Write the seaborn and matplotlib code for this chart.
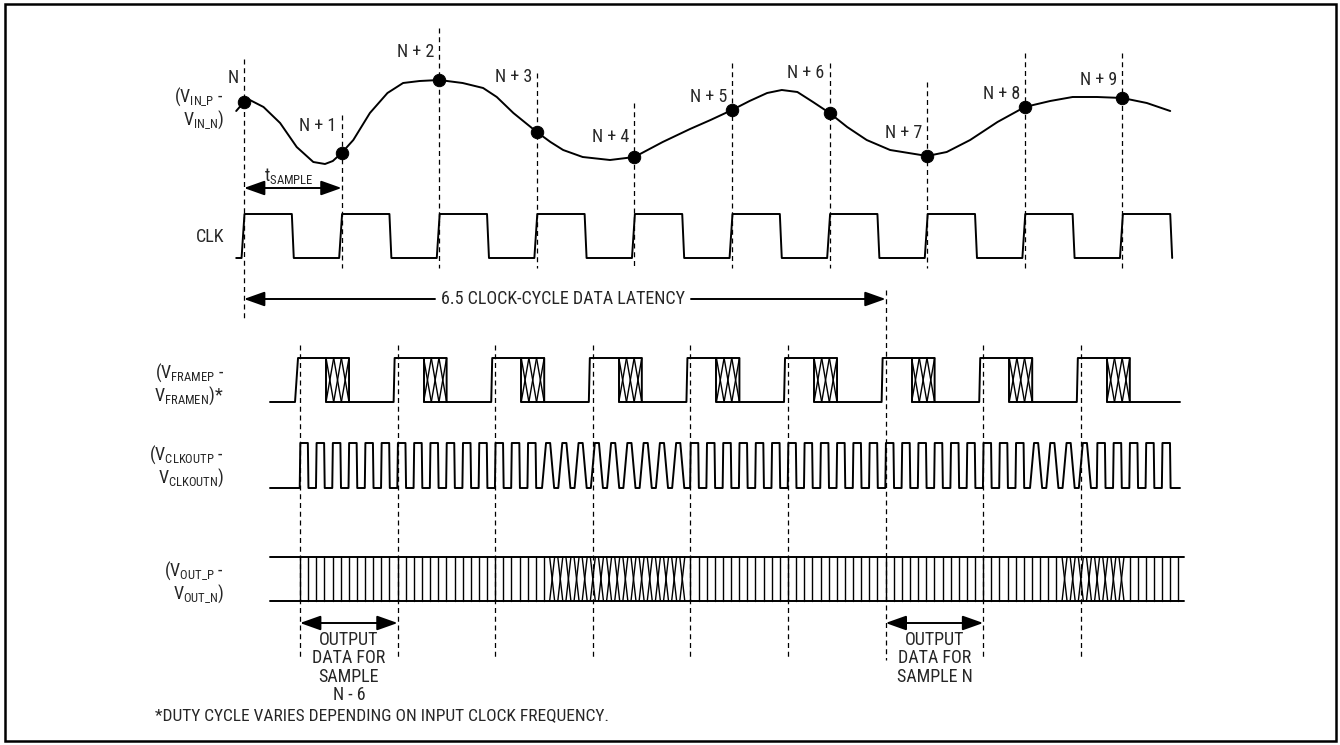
import numpy as np
import matplotlib
matplotlib.use('Agg')
import matplotlib.pyplot as plt
from matplotlib import font_manager
from matplotlib.patches import Rectangle
import seaborn as sns

# ---- data (time in input clock cycles, sample N at t = 0) ----
vin_t = [-0.08, 0.0, 0.06, 0.2, 0.37, 0.54, 0.71, 0.83, 0.91, 1.0, 1.12, 1.29, 1.47,
         1.63, 1.8, 2.0, 2.24, 2.45, 2.59, 2.76, 3.0, 3.14, 3.27, 3.47, 3.75, 4.0,
         4.29, 4.57, 4.78, 5.0, 5.18, 5.36, 5.51, 5.67, 5.83, 6.0, 6.18, 6.38, 6.62,
         7.0, 7.2, 7.44, 7.72, 8.0, 8.26, 8.49, 8.74, 9.0, 9.25, 9.49]
vin_v = [59, 68, 70, 63, 47, 23, 8, 6, 9, 17, 30, 57, 77, 87, 89, 90, 87, 82, 73, 57,
         38, 28, 20, 13, 10, 13, 28, 41, 50, 60, 69, 77, 80, 78, 68, 57, 43, 30, 20,
         14, 18, 30, 48, 63, 69, 73, 73, 72, 67, 59]
sample_t = [0, 1, 2, 3, 4, 5, 6, 7, 8, 9]
sample_v = [68, 17, 90, 38, 13, 60, 57, 14, 63, 72]
sample_names = ['N', 'N + 1', 'N + 2', 'N + 3', 'N + 4',
                'N + 5', 'N + 6', 'N + 7', 'N + 8', 'N + 9']

n_clk = 10            # input clock cycles drawn
frame_delay = 0.574   # output frame edge after sample clock
n_frames = 9
clkout_per_frame = 6
bits_per_frame = 12
latency_frames = 6    # sample N leaves on frame 6

row_labels = ['($\\mathregular{V_{IN\\_P}}$ -\n$\\mathregular{V_{IN\\_N}}$)',
              'CLK',
              '($\\mathregular{V_{FRAMEP}}$ -\n$\\mathregular{V_{FRAMEN}}$)*',
              '($\\mathregular{V_{CLKOUTP}}$ -\n$\\mathregular{V_{CLKOUTN}}$)',
              '($\\mathregular{V_{OUT\\_P}}$ -\n$\\mathregular{V_{OUT\\_N}}$)']

# ---- layout (pixels) ----
PX = 1 / 97.6
VIN_BASE = 170
CLK_HI, CLK_LO = 214, 258
FR_HI, FR_LO = 358, 402
CO_HI, CO_LO = 443, 488
VO_HI, VO_LO = 557, 601
name_y = [78, 126, 52, 77, 137, 97, 73, 133, 94, 80]
line_top = [59, 115, 28, 73, 103, 63, 63, 82, 53, 53]
label_y = [108, 237, 384, 466, 582]

sns.set_theme(style='white')
avail = {f.name for f in font_manager.fontManager.ttflist}
FONT = 'DejaVu Sans'
for fam in ['Liberation Sans Narrow', 'Roboto Condensed', 'DejaVu Sans Condensed', 'Liberation Sans']:
    if fam in avail:
        FONT = fam
        break
print('font:', FONT)
plt.rcParams['font.family'] = [FONT, 'DejaVu Sans']
plt.rcParams['mathtext.fontset'] = 'custom'
plt.rcParams['mathtext.rm'] = FONT
plt.rcParams['mathtext.it'] = FONT
plt.rcParams['mathtext.bf'] = FONT

fig = plt.figure(figsize=(13.4, 7.45), dpi=100)
ax = fig.add_axes([0, 0, 1, 1])
LW = 1.4
FS = 13
K = 'black'

# analog input and samples
sns.lineplot(x=vin_t, y=[VIN_BASE - v for v in vin_v], sort=False, estimator=None,
             color=K, lw=LW, ax=ax)
sns.scatterplot(x=sample_t, y=[VIN_BASE - v for v in sample_v], s=80, color=K,
                edgecolor=K, zorder=5, ax=ax)

dash = dict(color=K, lw=0.9, ls=(0, (4, 3)))
for k, t in enumerate(sample_t):
    ax.plot([t, t], [line_top[k], 320 if k == 0 else 268], **dash)
    ax.text(t - 5 * PX, name_y[k], sample_names[k], ha='right', va='center', fontsize=FS)

# input clock
xs, ys = [-0.08], [CLK_LO]
for k in range(n_clk):
    xs += [k - 0.025, k + 0.005, k + 0.49, k + 0.51]
    ys += [CLK_LO, CLK_HI, CLK_HI, CLK_LO]
ax.plot(xs, ys, color=K, lw=LW)

# frame signal with hatched transitions
frame_t = [frame_delay + k for k in range(n_frames)]
xs, ys = [26 * PX], [FR_LO]
for k, ft in enumerate(frame_t):
    r = ft - (5 if k == 0 else 4) * PX
    hs, he = ft + 26 * PX, ft + 49 * PX
    xs += [r, r + (3 if k == 0 else 1) * PX, he, he]
    ys += [FR_LO, FR_HI, FR_HI, FR_LO]
    ax.plot([hs, hs, he], [FR_HI, FR_LO, FR_LO], color=K, lw=LW)
    v = np.linspace(hs, he, 4)
    for j in range(3):
        ax.plot([v[j], v[j + 1]], [FR_HI, FR_LO], color=K, lw=1.0)
        ax.plot([v[j], v[j + 1]], [FR_LO, FR_HI], color=K, lw=1.0)
xs += [(1180 - 244) * PX]
ys += [FR_LO]
ax.plot(xs, ys, color=K, lw=LW)

# output clock
slant_co = [((543 - 244) * PX, (690 - 244) * PX), ((1027 - 244) * PX, (1097 - 244) * PX)]
per = 1 / clkout_per_frame
xs, ys = [26 * PX], [CO_LO]
for j in range(n_frames * clkout_per_frame):
    r = frame_delay + j * per
    s = 2 * PX if any(a <= r <= b for a, b in slant_co) else 0.3 * PX
    f = r + per / 2
    xs += [r - s, r + s, f - s, f + s]
    ys += [CO_LO, CO_HI, CO_HI, CO_LO]
xs += [(1180 - 244) * PX]
ys += [CO_LO]
ax.plot(xs, ys, color=K, lw=LW)

# serial data out
x0, x1 = 26 * PX, (1184 - 244) * PX
ax.plot([x0, x1], [VO_HI, VO_HI], color=K, lw=LW)
ax.plot([x0, x1], [VO_LO, VO_LO], color=K, lw=LW)
cross_vo = [((548 - 244) * PX, (690 - 244) * PX), ((1060 - 244) * PX, (1127 - 244) * PX)]
for i in range(n_frames * bits_per_frame + 1):
    b = frame_delay + i / bits_per_frame
    if b > x1:
        break
    if any(a <= b <= c for a, c in cross_vo):
        d = 2.5 * PX
        ax.plot([b - d, b + d], [VO_HI, VO_LO], color=K, lw=1.0)
        ax.plot([b - d, b + d], [VO_LO, VO_HI], color=K, lw=1.0)
    else:
        ax.plot([b, b], [VO_HI, VO_LO], color=K, lw=1.0)

# frame reference lines
for k, ft in enumerate(frame_t):
    ax.plot([ft, ft], [290 if k == latency_frames else 345, 660], **dash)

# arrows
def arrow(a, b, y, style='<|-|>'):
    ax.annotate('', xy=(b, y), xytext=(a, y),
                arrowprops=dict(arrowstyle=style + ',head_length=0.9,head_width=0.32',
                                mutation_scale=14, color=K, lw=LW,
                                shrinkA=0, shrinkB=0))

arrow(sample_t[0], sample_t[1], 188)
ax.text(0.2, 176, '$\\mathregular{t_{SAMPLE}}$', ha='left', va='center', fontsize=FS)

lat_end = frame_t[latency_frames]
mid = (563 - 244) * PX
ax.text(mid, 299, '6.5 CLOCK-CYCLE DATA LATENCY', ha='center', va='center', fontsize=FS)
arrow(mid - 128 * PX, 0, 299, style='-|>')
arrow(mid + 128 * PX, lat_end, 299, style='-|>')

arrow(frame_t[0], frame_t[1], 623)
ax.text(frame_t[0] + 0.5, 631, 'OUTPUT\nDATA FOR\nSAMPLE\nN - 6', ha='center', va='top',
        fontsize=FS, linespacing=1.03)
arrow(frame_t[latency_frames], frame_t[latency_frames + 1], 623)
ax.text(frame_t[latency_frames] + 0.5, 631, 'OUTPUT\nDATA FOR\nSAMPLE N', ha='center',
        va='top', fontsize=FS, linespacing=1.03)

# row labels
for lab, yy in zip(row_labels, label_y):
    ax.text(-20 * PX, yy, lab, ha='right', va='center', fontsize=FS,
            multialignment='right', linespacing=1.05)

ax.text((155 - 244) * PX, 716, '*DUTY CYCLE VARIES DEPENDING ON INPUT CLOCK FREQUENCY.',
        ha='left', va='center', fontsize=12.5)

ax.set_xlim(-244 * PX, (1340 - 244) * PX)
ax.set_ylim(745, 0)
ax.axis('off')
fig.patches.append(Rectangle((5 / 1340, 4 / 745), 1331 / 1340, 737 / 745,
                             transform=fig.transFigure, fill=False, ec=K, lw=1.8))
fig.savefig('out.png', dpi=100)
